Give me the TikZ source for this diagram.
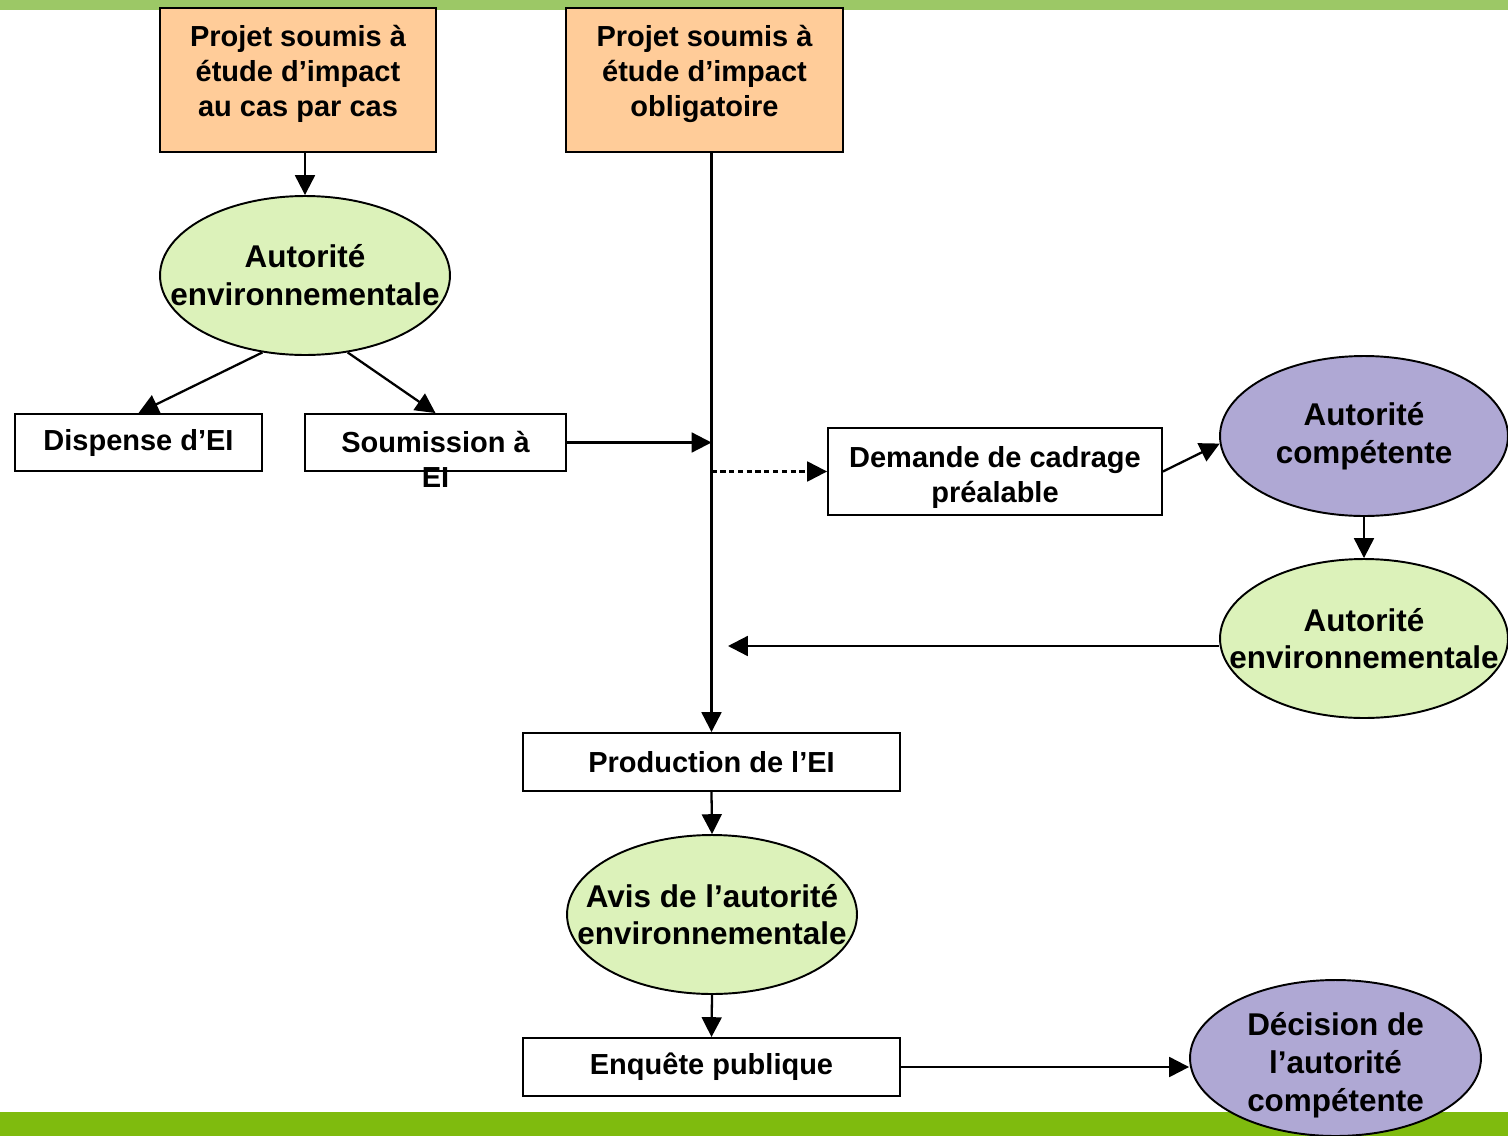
\documentclass[tikz,border=0pt]{standalone}
\usepackage{fontspec}
\setmainfont{Liberation Sans}
\usepackage{tikz}
\usetikzlibrary{
  	arrows.meta,
  	shapes,
  	calc,
  	positioning
  }
\definecolor{orangeclair}{HTML}{FFCC99}
\definecolor{vertclair}{HTML}{DCF2BA}
\definecolor{mauve}{HTML}{AFA8D4}
\definecolor{barrehaut}{HTML}{9CC866}
\definecolor{barrebas}{HTML}{7FBB0E}
\newcommand{\lignec}[1]{\makebox[0pt]{#1}}
\tikzstyle{boite}=[draw, line width=1.1pt, rectangle, inner sep=0pt, font=\bfseries\fontsize{16.5}{19.85}\selectfont, align=center]
\tikzstyle{texte}=[inner sep=0pt, font=\bfseries\fontsize{16.5}{19.85}\selectfont, align=center]
\tikzstyle{bulle}=[draw, line width=1.1pt, ellipse, inner sep=0pt, font=\bfseries\fontsize{17.9}{21.5}\selectfont, align=center]
\tikzstyle{fleche}=[-{Triangle[length=11.3pt,width=11.3pt]}, line width=1.3pt]

\begin{document}
\begin{tikzpicture}[x=0.02cm, y=-0.02cm]
  \useasboundingbox (0,0) rectangle (1508,1136);
  \fill[barrehaut] (0,0) rectangle (1508,10);
  \fill[barrebas] (0,1112) rectangle (1508,1136);
%
  \node[boite, fill=orangeclair, minimum width=5.52cm, minimum height=2.88cm] (pcas) at (298,80) {};
  \node[texte] (pcastxt) at (298,74) {Projet soumis à\\étude d’impact\\au cas par cas};
  \node[boite, fill=orangeclair, minimum width=5.54cm, minimum height=2.88cm] (pobl) at (704.5,80) {};
  \node[texte] (pobltxt) at (704.5,74) {Projet soumis à\\étude d’impact\\obligatoire};
  \node[bulle, fill=vertclair, minimum width=5.8cm, minimum height=3.18cm] (ae1) at (305,275.5)
    {\lignec{Autorité}\\\lignec{environnementale}};
  \node[boite, minimum width=4.94cm, minimum height=1.14cm] (disp) at (138.5,442.5) {Dispense d’EI};
  \node[boite, minimum width=5.22cm, minimum height=1.14cm] (soum) at (435.5,442.5) {};
  \node[texte] (soumtxt) at (435.5,459) {Soumission à\\EI};
  \node[boite, minimum width=6.68cm, minimum height=1.74cm] (dem) at (995,471.5) {};
  \node[texte] (demtxt) at (995,477.5) {Demande de cadrage\\préalable};
  \node[bulle, fill=mauve, minimum width=5.76cm, minimum height=3.2cm] (ac) at (1364,436)
    {\lignec{Autorité}\\\lignec{compétente}};
  \node[bulle, fill=vertclair, minimum width=5.76cm, minimum height=3.18cm] (ae2) at (1364,638.5)
    {\lignec{Autorité}\\\lignec{environnementale}};
  \node[boite, minimum width=7.54cm, minimum height=1.16cm] (prod) at (711.5,762) {Production de l’EI};
  \node[bulle, fill=vertclair, minimum width=5.8cm, minimum height=3.18cm] (avis) at (712,914.5)
    {\lignec{Avis de l’autorité}\\\lignec{environnementale}};
  \node[boite, minimum width=7.54cm, minimum height=1.16cm] (enq) at (711.5,1067) {Enquête publique};
  \node[bulle, fill=mauve, minimum width=5.82cm, minimum height=3.12cm] (dec) at (1335.5,1058) {};
  \node[texte, font=\bfseries\fontsize{17.9}{21.5}\selectfont] (dectxt) at (1335.5,1065)
    {Décision de\\l’autorité\\compétente};
  \coordinate (retour) at (728,646);
%
  \draw[fleche] (ae1.north |- pcas.south) -- (ae1.north);
  \draw[fleche] (ae1.241) -- (disp.north);
  \draw[fleche] (ae1.299) -- (soum.north);
  \draw[fleche] (prod.north |- pobl.south) -- (prod.north);
  \draw[fleche] (soum.east) -- (soum.east -| prod.north);
  \draw[fleche, dash pattern=on 3pt off 2pt] (dem.west -| prod.north) -- (dem.west);
  \draw[fleche] (dem.east) -- (ac.183);
  \draw[fleche] (ac.south) -- (ae2.north);
  \draw[fleche] (retour -| ae2.west) -- (retour);
  \draw[fleche] (prod.south) -- (avis.north);
  \draw[fleche] (avis.south) -- (enq.north);
  \draw[fleche] (enq.east) -- (enq.east -| dec.west);
\end{tikzpicture}
\end{document}
